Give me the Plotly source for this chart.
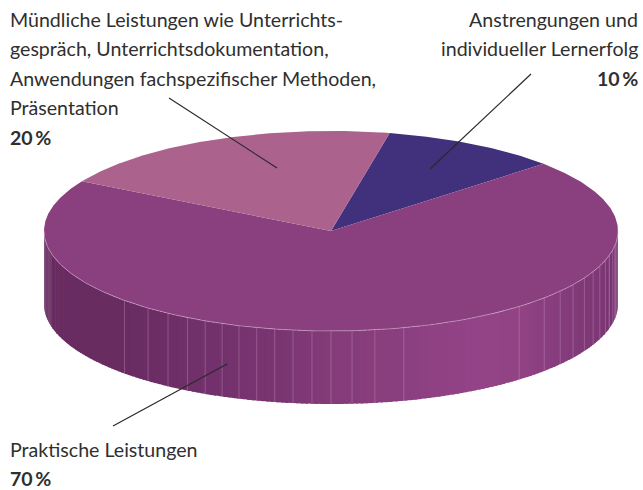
import numpy as np
import plotly.graph_objects as go

# --- data ---
categories = ["Anstrengungen und individueller Lernerfolg",
              "Praktische Leistungen",
              "Mündliche Leistungen wie Unterrichtsgespräch, Unterrichtsdokumentation, Anwendungen fachspezifischer Methoden, Präsentation"]
shares = [10, 70, 20]
percent_labels = ["10\u2009%", "70\u2009%", "20\u2009%"]
slice_colors = ["#41307B", "#8A3F7F", "#AB628D"]
label_lines_top_left = ["Mündliche Leistungen wie Unterrichts-", "gespräch, Unterrichtsdokumentation,",
                        "Anwendungen fachspezifischer Methoden,", "Präsentation"]
label_lines_top_right = ["Anstrengungen und", "individueller Lernerfolg"]
label_lines_bottom = ["Praktische Leistungen"]
seam_angles = [-46, -39.6, -34.6, -30, -26, -22.3, -18.7, -15, -11.3, -7.6, -3.8, 0, 4.2, 8.8, 14.7,
               41, 48, 53, 57.5, 62, 66, 69.5, 73, 76, 79, 82]
shade_angles = [-90, -46, -30, -10, 0, 14, 30, 41, 48, 60, 90]
shade_colors = [(105, 44, 97), (105, 44, 97), (112, 48, 106), (122, 54, 115), (133, 60, 122), (139, 63, 128),
                (148, 68, 136), (146, 67, 132), (138, 63, 128), (129, 58, 120), (116, 51, 112)]

# --- geometry of the pie ---
CX, CY, RX, RY, DEPTH = 331, 231, 287, 100, 73
START = 11.8


def rim(deg):
    t = np.radians(deg)
    return CX + RX * np.sin(t), CY - RY * np.cos(t)


def wall_top(a):
    t = np.radians(a)
    return CX + RX * np.sin(t), CY + RY * np.cos(t)


fig = go.Figure()

# side wall, drawn as thin strips left to right
edges = np.arange(-90, 90.01, 1.0)
for a0, a1 in zip(edges[:-1], edges[1:]):
    aa = np.linspace(a0, min(a1 + 0.4, 90), 4)
    xs, ys = wall_top(aa)
    rgb = [int(np.interp((a0 + a1) / 2, shade_angles, [c[i] for c in shade_colors])) for i in range(3)]
    fig.add_trace(go.Scatter(x=np.r_[xs, xs[::-1]], y=np.r_[ys, ys[::-1] + DEPTH], mode="lines",
                             fill="toself", fillcolor=f"rgb({rgb[0]},{rgb[1]},{rgb[2]})",
                             line=dict(width=0), hoverinfo="skip", showlegend=False))

# light seams on the wall
for a in seam_angles:
    x, y = wall_top(np.array([a]))
    fig.add_trace(go.Scatter(x=[x[0], x[0]], y=[y[0], y[0] + DEPTH], mode="lines",
                             line=dict(color="rgba(205,160,198,0.5)", width=0.7),
                             hoverinfo="skip", showlegend=False))

# top face
pos = START
for name, share, col in zip(categories, shares, slice_colors):
    sweep = share / sum(shares) * 360
    th = np.linspace(pos, pos + sweep, max(int(sweep * 2), 8))
    xs, ys = rim(th)
    fig.add_trace(go.Scatter(x=np.r_[CX, xs, CX], y=np.r_[CY, ys, CY], mode="lines", fill="toself",
                             fillcolor=col, line=dict(width=0), name=name, showlegend=False,
                             hovertemplate=f"{share} %<extra></extra>"))
    pos += sweep

# light front rim
aa = np.linspace(-90, 90, 240)
xs, ys = wall_top(aa)
fig.add_trace(go.Scatter(x=xs, y=ys, mode="lines", line=dict(color="rgba(215,175,208,0.75)", width=0.7),
                         hoverinfo="skip", showlegend=False))

# leader lines
leaders = [((169, 98), (277, 168)), ((531, 74), (430, 169)), ((113, 426), (227, 364))]
shapes = [dict(type="line", xref="x", yref="y", x0=p[0], y0=p[1], x1=q[0], y1=q[1],
               line=dict(color="#2a2a2a", width=1.2)) for p, q in leaders]

TXT = "#2f2f2f"
FONT = "Lato"
SIZE = 19.6


def put(text, x, y, anchor, bold=False):
    fig.add_annotation(x=x, y=y, xref="x", yref="y", text=f"<b>{text}</b>" if bold else text,
                       showarrow=False, xanchor=anchor, yanchor="middle", xshift=0,
                       font=dict(family=FONT, size=SIZE, color=TXT), align=anchor)


for i, line in enumerate(label_lines_top_left):
    put(line, 8, 19 + i * 29.5, "left")
put(percent_labels[2], 8, 137, "left", True)
for i, line in enumerate(label_lines_top_right):
    put(line, 640, 19 + i * 29.5, "right")
put(percent_labels[0], 640, 78, "right", True)
put(label_lines_bottom[0], 8, 449, "left")
put(percent_labels[1], 8, 478, "left", True)

fig.update_layout(width=643, height=490, margin=dict(l=0, r=0, t=0, b=0), autosize=False,
                  paper_bgcolor="white", plot_bgcolor="white", shapes=shapes, showlegend=False,
                  xaxis=dict(range=[0, 643], visible=False, fixedrange=True),
                  yaxis=dict(range=[490, 0], visible=False, fixedrange=True))
fig.write_html("out.html", config=dict(displayModeBar=False),
               post_script="document.body.style.margin='0';document.documentElement.style.overflow='hidden';")
